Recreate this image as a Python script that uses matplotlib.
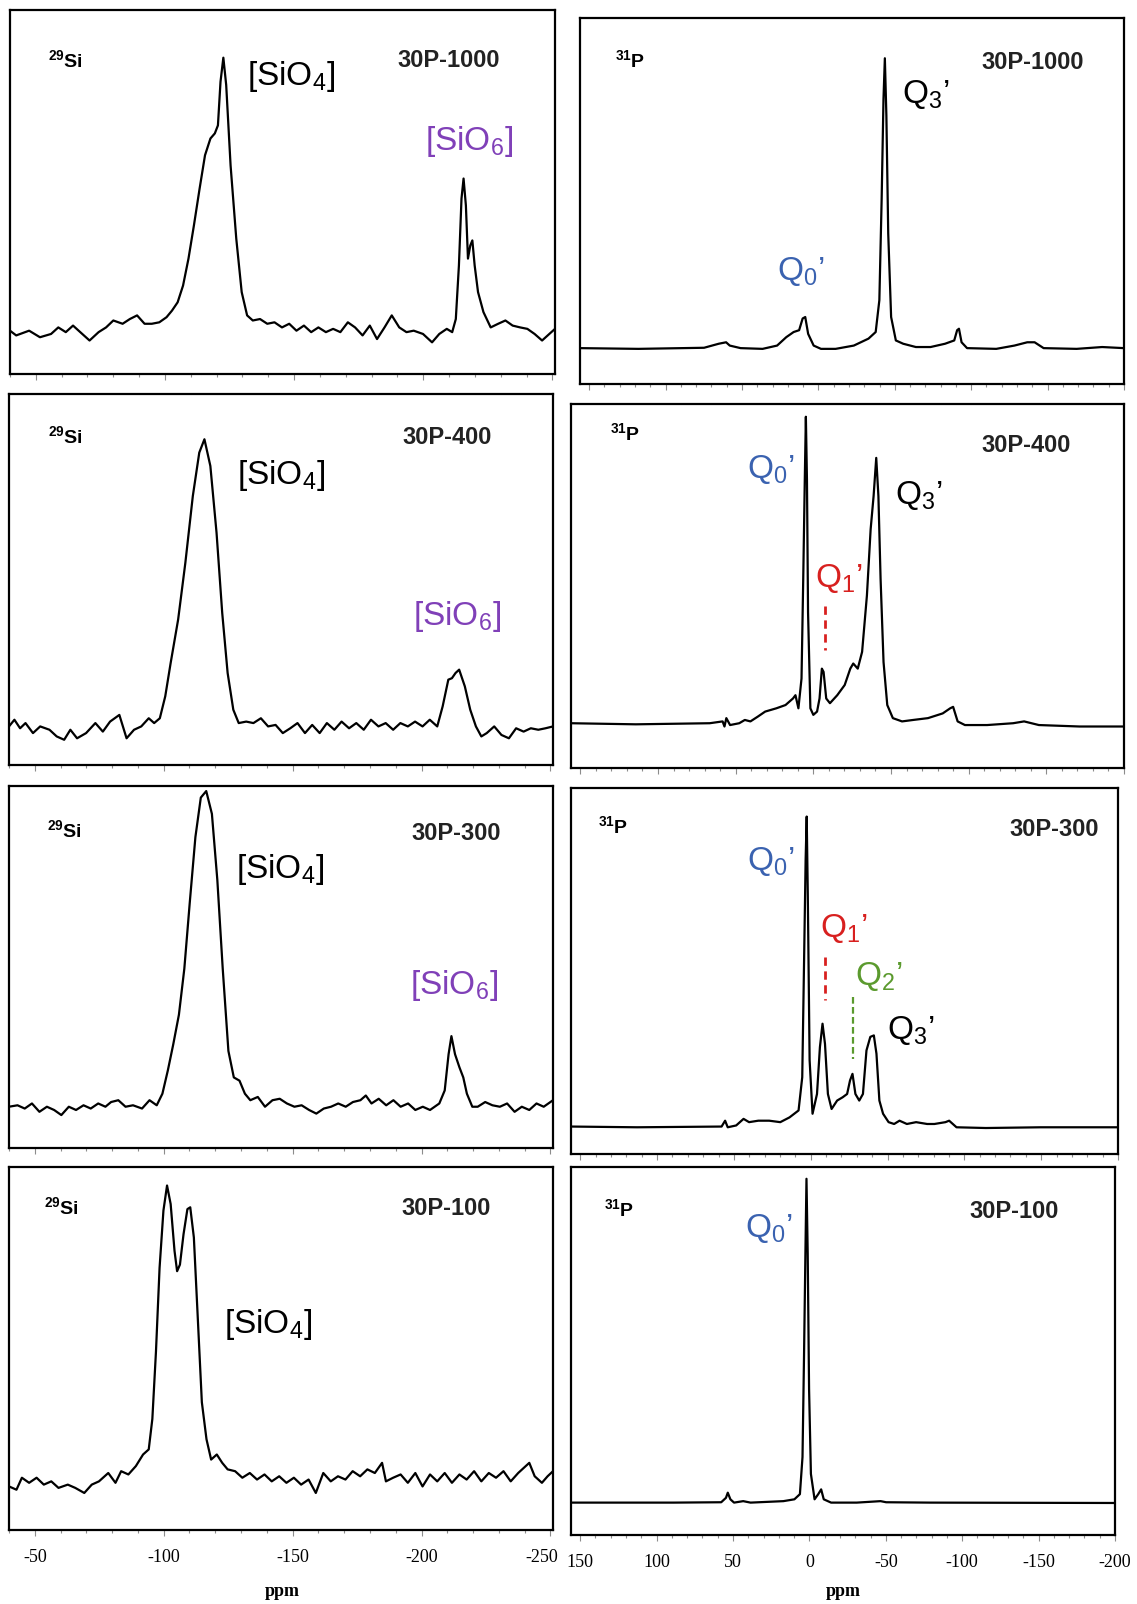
import matplotlib
matplotlib.use("Agg")
import matplotlib.pyplot as plt
import matplotlib.transforms as mtransforms
from matplotlib.ticker import FixedLocator, FixedFormatter, MultipleLocator

plt.rcParams['font.family'] = 'Liberation Sans'
plt.rcParams['mathtext.fontset'] = 'custom'
plt.rcParams['mathtext.rm'] = 'Liberation Sans'
plt.rcParams['mathtext.it'] = 'Liberation Sans:italic'
plt.rcParams['mathtext.bf'] = 'Liberation Sans:bold'
plt.rcParams['mathtext.default'] = 'regular'

# ---- 29Si spectra (ppm, intensity as % of panel height) ----
si_1000_ppm = [-40, -42.4, -47.4, -51.6, -55.9, -58.7, -61.6, -64.4, -67.2, -70.8, -74.3, -77.2, -80.0,
               -83.6, -86.4, -89.2, -92.1, -94.9, -97.8, -100.6, -102.7, -104.9, -107.0, -109.1, -111.2,
               -113.4, -115.5, -117.6, -119.3, -120.5, -121.5, -122.6, -123.7, -125.4, -127.6, -129.7,
               -131.8, -134.0, -136.8, -139.6, -142.4, -145.3, -148.1, -150.9, -153.8, -156.6, -159.4,
               -162.3, -165.1, -167.9, -170.8, -173.6, -176.5, -179.3, -182.1, -185.0, -187.8, -190.7,
               -193.5, -196.3, -199.9, -203.4, -206.2, -209.1, -211.2, -212.6, -213.8, -214.8, -215.6,
               -216.5, -217.3, -218.2, -219.0, -219.9, -221.2, -223.3, -226.1, -229.0, -231.8, -234.6,
               -237.5, -240.3, -243.1, -246.0, -248.8, -251.0]
si_1000_int = [11.9, 10.6, 11.9, 10.1, 11.0, 12.8, 11.5, 13.3, 11.5, 9.2, 11.5, 12.8, 14.7,
               13.8, 15.1, 16.1, 13.8, 13.8, 14.2, 15.6, 17.4, 19.7, 24.3, 31.7, 40.8,
               50.9, 60.1, 64.7, 66.1, 68.3, 80.3, 86.9, 79.4, 57.3, 37.2, 22.5,
               16.1, 14.7, 15.1, 13.8, 14.2, 12.8, 13.8, 11.9, 13.3, 11.5, 12.8,
               11.5, 12.4, 11.5, 14.2, 12.8, 10.6, 13.3, 9.6, 12.8, 16.1, 12.8,
               11.5, 11.9, 11.0, 8.7, 11.0, 12.4, 11.5, 15.1, 29.8, 48.2, 53.7,
               46.3, 31.7, 35.3, 36.7, 29.8, 22.5, 17.0, 12.8, 13.8, 14.7, 13.3,
               12.8, 12.4, 11.0, 9.2, 11.0, 12.4]

si_400_ppm = [-40, -42.1, -44.3, -46.4, -49.3, -52.1, -55.7, -58.5, -61.4, -63.8, -66.4, -69.9, -73.5,
              -76.4, -79.2, -82.8, -85.6, -88.5, -91.3, -94.2, -96.3, -98.5, -100.6, -102.7, -105.6,
              -108.4, -111.3, -113.8, -115.8, -118.1, -120.5, -122.7, -124.8, -127.0, -129.1, -132.0,
              -134.8, -137.7, -140.5, -143.4, -146.2, -149.1, -151.9, -154.8, -157.6, -160.5, -163.3,
              -166.2, -169.0, -171.9, -174.7, -177.6, -180.4, -183.3, -186.1, -189.0, -191.8, -194.7,
              -197.5, -200.4, -203.2, -206.1, -208.2, -210.4, -211.8, -213.2, -214.6, -216.8, -218.9,
              -221.1, -223.2, -225.3, -228.2, -231.0, -233.9, -236.7, -239.6, -242.4, -245.3, -248.1,
              -251.0]
si_400_int = [10.4, 12.2, 9.9, 11.3, 8.6, 10.4, 9.5, 7.7, 6.8, 9.5, 7.2, 8.6, 11.3,
              9.0, 11.7, 13.5, 7.2, 9.5, 10.4, 12.6, 11.3, 12.6, 18.5, 27.5, 39.2,
              54.5, 72.5, 84.2, 87.8, 80.6, 62.6, 41.0, 24.8, 14.9, 11.3, 11.7,
              11.3, 12.6, 10.4, 10.8, 8.6, 9.9, 11.3, 8.6, 10.8, 8.6, 11.3,
              9.5, 11.7, 9.9, 11.3, 9.5, 12.2, 10.4, 11.3, 9.5, 11.3, 10.4,
              11.7, 10.4, 12.2, 10.4, 15.8, 23.0, 23.4, 24.8, 25.7, 21.2, 14.9,
              10.4, 7.7, 8.6, 10.4, 8.1, 7.2, 9.9, 9.0, 9.9, 9.5, 9.9,
              10.4]

si_300_ppm = [-40.0, -43.3, -46.1, -48.9, -51.8, -54.7, -57.5, -60.3, -63.2, -66.0, -68.9, -71.7, -74.6,
              -77.4, -79.6, -82.4, -85.2, -88.1, -91.6, -94.5, -97.3, -99.5, -101.6, -103.7, -105.9,
              -108.0, -110.1, -112.3, -114.4, -116.5, -118.7, -120.8, -122.9, -125.1, -127.2, -129.4,
              -131.5, -133.6, -136.5, -139.3, -142.2, -145.0, -147.8, -150.7, -153.5, -156.4, -159.2,
              -162.1, -164.9, -167.7, -170.6, -173.4, -176.3, -178.4, -180.6, -183.4, -186.3, -189.1,
              -191.9, -194.8, -197.6, -200.5, -203.3, -206.9, -209.0, -210.5, -211.6, -213.0, -214.7,
              -216.2, -217.6, -219.7, -221.8, -224.7, -227.5, -230.4, -233.2, -236.1, -238.9, -241.8,
              -244.6, -247.4, -251.0]
si_300_int = [11.4, 11.8, 10.9, 12.3, 10.0, 11.4, 10.5, 9.1, 11.4, 10.5, 11.8, 10.9, 12.3,
              11.4, 12.7, 13.2, 11.4, 11.8, 10.9, 13.2, 11.8, 15.0, 21.4, 28.6, 36.8,
              49.5, 67.7, 85.9, 96.8, 98.6, 92.3, 74.1, 49.5, 26.8, 19.5, 18.6,
              15.0, 13.2, 14.1, 11.4, 13.2, 13.6, 12.3, 11.4, 11.8, 10.5, 9.5,
              10.9, 11.4, 12.3, 11.4, 12.7, 13.2, 14.5, 12.3, 13.6, 11.8, 13.2,
              11.4, 12.3, 10.5, 11.4, 10.5, 12.3, 15.9, 25.9, 30.9, 25.9, 22.3,
              19.5, 15.0, 11.4, 11.4, 12.7, 11.8, 11.4, 12.3, 10.0, 11.4, 10.5,
              12.3, 11.4, 13.2]

si_100_ppm = [-40.0, -42.9, -45.0, -47.8, -50.7, -53.5, -56.4, -59.2, -62.8, -65.7, -69.2, -72.1, -74.9,
              -78.5, -81.3, -83.5, -86.3, -89.2, -92.0, -94.2, -95.6, -97.0, -98.4, -99.9, -101.3,
              -102.7, -104.2, -105.2, -106.3, -107.7, -109.2, -110.3, -111.7, -113.1, -114.8, -116.6,
              -118.4, -120.6, -122.7, -124.8, -127.7, -130.5, -133.4, -136.2, -139.1, -141.9, -144.8,
              -147.6, -150.5, -153.3, -156.2, -159.0, -161.9, -164.8, -167.6, -170.5, -173.3, -176.2,
              -179.0, -181.9, -184.7, -186.2, -189.0, -191.9, -194.7, -197.6, -200.4, -203.3, -206.1,
              -209.0, -211.8, -214.7, -217.5, -220.4, -223.2, -226.1, -228.9, -231.8, -234.6, -237.5,
              -241.8, -243.9, -246.7, -248.9, -251.0]
si_100_int = [12.0, 11.1, 14.4, 13.0, 14.4, 12.5, 13.4, 11.6, 12.5, 11.6, 10.2, 12.5, 13.4,
              15.7, 13.0, 16.2, 15.3, 17.6, 20.8, 22.2, 30.6, 49.1, 72.2, 88.0, 94.9,
              89.8, 76.9, 71.3, 73.1, 81.5, 88.4, 88.9, 80.6, 60.2, 35.2, 25.0,
              19.4, 20.8, 18.5, 16.7, 16.2, 14.4, 15.7, 13.9, 15.3, 13.4, 14.8,
              13.0, 14.4, 12.5, 13.9, 10.2, 15.7, 13.4, 14.8, 13.9, 16.2, 14.8,
              16.7, 15.7, 18.5, 13.4, 14.4, 15.3, 13.0, 15.7, 12.0, 15.3, 13.4,
              15.7, 13.0, 15.3, 13.9, 16.2, 13.4, 15.7, 14.4, 16.2, 13.4, 15.7,
              18.5, 14.8, 13.0, 14.8, 16.2]

# ---- 31P spectra ----
p_1000_ppm = [156, 117.8, 74.8, 65.2, 60.4, 58.0, 50.9, 36.5, 27.0, 21.0, 16.2, 12.6, 10.3, 8.6, 6.7,
              3.1, -1.7, -11.3, -23.2, -32.8, -37.5, -39.9, -41.4, -42.6, -43.5, -44.5, -45.7, -47.6,
              -50.7, -55.5, -63.8, -73.4, -82.9, -88.9, -90.8, -92.0, -93.7, -97.3, -116.4, -128.3,
              -136.7, -141.5, -147.4, -169.0, -185.7, -200]
p_1000_int = [9.8, 9.6, 9.9, 11.0, 11.4, 10.5, 9.8, 9.6, 10.5, 12.8, 14.2, 14.7, 17.9, 18.3, 13.7,
              10.5, 9.6, 9.6, 10.5, 12.4, 14.2, 22.9, 50.4, 77.8, 89.0, 73.3, 41.2, 18.3,
              11.9, 11.0, 10.1, 10.1, 11.0, 11.9, 14.7, 15.1, 11.4, 9.8, 9.6, 10.5,
              11.4, 11.4, 9.8, 9.6, 10.1, 9.8]

p_400_ppm = [156, 114.3, 66.7, 58.4, 57.2, 56.0, 53.6, 47.7, 44.1, 40.5, 35.8, 31.0, 23.8, 17.9, 13.1,
             11.5, 9.6, 7.6, 6.5, 5.5, 4.8, 4.1, 3.4, 1.9, 0.0, -2.4, -4.0, -5.5, -6.6, -8.3, -10.7,
             -15.4, -20.2, -23.8, -25.7, -28.6, -31.4, -34.5, -36.9, -38.8, -40.5, -41.9, -43.3,
             -45.2, -47.6, -51.2, -57.1, -64.3, -73.8, -83.3, -88.1, -90.0, -92.9, -97.6, -111.9,
             -128.6, -135.7, -145.2, -171.4, -200]
p_400_int = [12.3, 12.0, 12.3, 12.8, 11.4, 13.7, 11.8, 12.3, 13.2, 12.8, 14.1, 15.5, 16.4, 17.3, 19.1,
             20.0, 16.4, 24.6, 51.9, 79.2, 96.5, 79.2, 42.8, 16.4, 14.6, 15.5, 19.1, 27.3, 26.4, 19.1, 17.8,
             20.0, 22.8, 27.3, 28.7, 27.3, 31.9, 47.4, 65.6, 74.7, 85.2, 74.7, 51.9,
             29.1, 17.3, 13.7, 12.8, 13.2, 13.7, 15.0, 16.4, 16.8, 12.8, 11.8, 11.8,
             12.3, 12.8, 11.8, 11.4, 11.4]

p_300_ppm = [156, 113, 58.0, 55.7, 54.0, 48.5, 43.7, 40.1, 34.1, 27.0, 19.8, 13.8, 7.9, 5.5, 4.3, 3.3,
             2.6, 1.9, 0.7, -1.2, -4.1, -6.0, -7.7, -9.3, -11.2, -13.6, -17.2, -20.8, -23.7, -25.6,
             -27.2, -29.1, -31.6, -34.0, -36.3, -38.8, -41.1, -42.8, -44.7, -47.1, -50.7, -54.3,
             -57.8, -62.6, -68.6, -75.8, -80.5, -87.7, -90.1, -94.9, -114.0, -149.8, -200]
p_300_int = [7.5, 7.3, 7.5, 9.1, 7.3, 7.8, 9.6, 8.7, 9.1, 9.1, 8.7, 10.0, 11.9, 21.0, 53.0, 80.4,
             92.2, 71.2, 25.6, 11.0, 16.4, 29.2, 35.6, 30.1, 16.4, 12.3, 14.6, 15.5, 16.4, 20.1,
             21.9, 16.4, 14.6, 16.4, 28.3, 32.0, 32.4, 27.4, 14.6, 11.0, 8.7, 8.2,
             9.1, 8.2, 8.7, 8.2, 8.2, 8.7, 9.1, 7.3, 7.1, 7.3, 7.3]

p_100_ppm = [156, 88.9, 57.7, 54.6, 53.4, 51.7, 49.3, 43.3, 38.5, 17.0, 9.8, 6.2, 4.5, 3.5, 2.6, 1.9,
             1.1, 0.2, -1.0, -3.4, -5.8, -7.7, -9.4, -14.2, -31.0, -46.6, -50.2, -78.9, -200]
p_100_int = [8.8, 8.8, 8.9, 10.1, 11.5, 9.7, 8.8, 9.2, 8.8, 9.2, 9.7, 11.1, 21.2, 48.8, 76.5, 96.8,
             76.5, 39.6, 16.6, 9.7, 11.1, 12.4, 9.7, 8.8, 8.8, 9.2, 8.9, 8.8, 8.7]

samples = ['30P-1000', '30P-400', '30P-300', '30P-100']
si_ticks = [-50, -100, -150, -200, -250]
si_tick_labels = ['-50', '-100', '-150', '-200', '-250']
p_ticks = [150, 100, 50, 0, -50, -100, -150, -200]
p_tick_labels = ['150', '100', '50', '0', '-50', '-100', '-150', '-200']

BLUE = '#3a62b0'
RED = '#d8201f'
GREEN = '#5b9a2e'
PURPLE = '#8040b8'

W, H = 1137, 1604
fig = plt.figure(figsize=(W / 100, H / 100), dpi=100)


def add_axes(x0, y0, x1, y1):
    # pixel box (top-left origin) -> figure fraction
    return fig.add_axes([x0 / W, 1 - y1 / H, (x1 - x0) / W, (y1 - y0) / H])


left_boxes = [(10, 10, 555, 374), (9, 394, 553, 765), (9, 786, 553, 1148), (9, 1167, 553, 1530)]
right_boxes = [(580, 18, 1124, 384), (571, 404, 1124, 768), (571, 788, 1118, 1154), (571, 1167, 1115, 1535)]

si_data = [(si_1000_ppm, si_1000_int), (si_400_ppm, si_400_int),
           (si_300_ppm, si_300_int), (si_100_ppm, si_100_int)]
p_data = [(p_1000_ppm, p_1000_int), (p_400_ppm, p_400_int),
          (p_300_ppm, p_300_int), (p_100_ppm, p_100_int)]


def style(ax, xlim, ticks, labels, bottom):
    ax.set_xlim(*xlim)
    ax.set_ylim(0, 100)
    ax.set_yticks([])
    for s in ax.spines.values():
        s.set_linewidth(1.6)
    ax.xaxis.set_major_locator(FixedLocator(ticks))
    ax.xaxis.set_minor_locator(MultipleLocator(10))
    ax.tick_params(axis='x', which='both', direction='out', color='0.55', width=0.8)
    ax.tick_params(axis='x', which='major', length=4)
    ax.tick_params(axis='x', which='minor', length=2.5)
    if bottom:
        ax.xaxis.set_major_formatter(FixedFormatter(labels))
        ax.tick_params(axis='x', which='major', labelsize=13, pad=10)
        for t in ax.get_xticklabels():
            t.set_fontfamily('Liberation Serif')
    else:
        ax.set_xticklabels([])


# label positions (axes fractions)
si_label_pos = [(0.069, 0.862), (0.071, 0.887), (0.069, 0.877), (0.064, 0.889)]
si_name_pos = [(0.899, 0.862), (0.888, 0.883), (0.905, 0.868), (0.885, 0.887)]
sio4_pos = [(0.435, 0.817), (0.419, 0.779), (0.417, 0.768), (0.395, 0.565)]
sio6_pos = [(0.761, 0.638), (0.743, 0.40), (0.737, 0.45), None]

for i in range(4):
    ax = add_axes(*left_boxes[i])
    ppm, inten = si_data[i]
    ax.plot(ppm, inten, color='k', lw=1.6)
    style(ax, (-40, -251), si_ticks, si_tick_labels, i == 3)
    if i == 3:
        # the last label sits a little left of the frame corner
        lab = ax.get_xticklabels()[-1]
        lab.set_transform(lab.get_transform() +
                          mtransforms.ScaledTranslation(-0.09, 0, fig.dpi_scale_trans))
    ax.text(*si_label_pos[i], r'$^{29}$Si', transform=ax.transAxes, fontsize=14,
            fontweight='bold', va='center', ha='left')
    ax.text(*si_name_pos[i], samples[i], transform=ax.transAxes, fontsize=17,
            fontweight='bold', va='center', ha='right', color='#222222')
    ax.text(*sio4_pos[i], r'[SiO$_4$]', transform=ax.transAxes, fontsize=24,
            va='center', ha='left')
    if sio6_pos[i] is not None:
        ax.text(*sio6_pos[i], r'[SiO$_6$]', transform=ax.transAxes, fontsize=24,
                va='center', ha='left', color=PURPLE)

p_label_pos = [(0.064, 0.884), (0.07, 0.92), (0.05, 0.895), (0.06, 0.885)]
p_name_pos = [(0.926, 0.879), (0.903, 0.886), (0.966, 0.886), (0.896, 0.88)]
q0_pos = [(0.362, 0.307), (0.318, 0.82), (0.322, 0.80), (0.32, 0.834)]
q3_pos = [(0.591, 0.79), (0.585, 0.75), (0.577, 0.338), None]
q1_pos = [None, (0.441, 0.52), (0.456, 0.616), None]
q2_pos = [None, None, (0.52, 0.484), None]
q1_line = [None, (-7.6, 44.6, 32.3), (-9.3, 53.9, 42.0), None]
q2_line = [None, None, (-27.3, 42.9, 26.0), None]

for i in range(4):
    ax = add_axes(*right_boxes[i])
    ppm, inten = p_data[i]
    ax.plot(ppm, inten, color='k', lw=1.6)
    style(ax, (156, -200), p_ticks, p_tick_labels, i == 3)
    ax.text(*p_label_pos[i], r'$^{31}$P', transform=ax.transAxes, fontsize=14,
            fontweight='bold', va='center', ha='left')
    ax.text(*p_name_pos[i], samples[i], transform=ax.transAxes, fontsize=17,
            fontweight='bold', va='center', ha='right', color='#222222')
    ax.text(*q0_pos[i], "Q$_0$\u2019", transform=ax.transAxes, fontsize=24,
            va='center', ha='left', color=BLUE)
    if q3_pos[i] is not None:
        ax.text(*q3_pos[i], "Q$_3$\u2019", transform=ax.transAxes, fontsize=24,
                va='center', ha='left', color='k')
    if q1_pos[i] is not None:
        ax.text(*q1_pos[i], "Q$_1$\u2019", transform=ax.transAxes, fontsize=24,
                va='center', ha='left', color=RED)
        x, y0, y1 = q1_line[i]
        ax.plot([x, x], [y0, y1], color=RED, lw=2, dashes=(3, 2))
    if q2_pos[i] is not None:
        ax.text(*q2_pos[i], "Q$_2$\u2019", transform=ax.transAxes, fontsize=24,
                va='center', ha='left', color=GREEN)
        x, y0, y1 = q2_line[i]
        ax.plot([x, x], [y0, y1], color=GREEN, lw=1.6, dashes=(3, 1.5))

fig.text(282 / W, 1 - 1591 / H, 'ppm', fontsize=13, fontweight='bold',
         fontfamily='Liberation Serif', ha='center', va='center')
fig.text(843 / W, 1 - 1591 / H, 'ppm', fontsize=13, fontweight='bold',
         fontfamily='Liberation Serif', ha='center', va='center')

fig.savefig('out.png', dpi=100, facecolor='white')
